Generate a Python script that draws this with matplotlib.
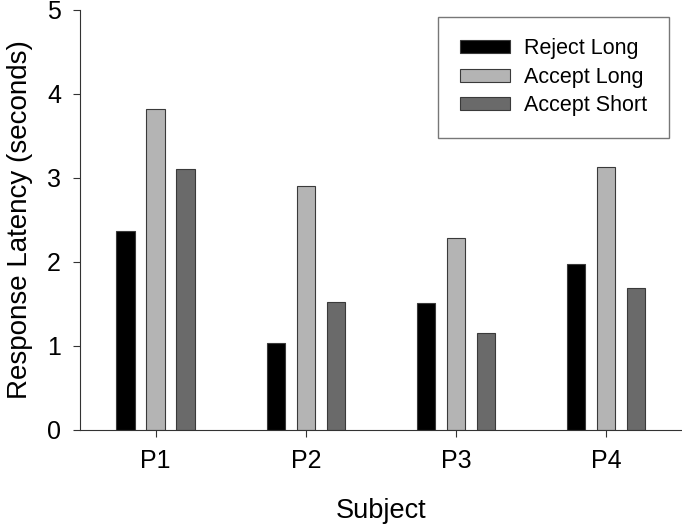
import matplotlib
matplotlib.use("Agg")
import matplotlib.pyplot as plt
import numpy as np

plt.rcParams['font.family'] = ['Liberation Sans', 'DejaVu Sans']

subjects = ["P1", "P2", "P3", "P4"]
series_names = ["Reject Long", "Accept Long", "Accept Short"]
reject_long = [2.37, 1.03, 1.51, 1.97]
accept_long = [3.82, 2.90, 2.28, 3.13]
accept_short = [3.11, 1.52, 1.16, 1.69]
colors = ["#000000", "#b4b4b4", "#6a6a6a"]

fig = plt.figure(figsize=(6.82, 5.25), dpi=100)
ax = fig.add_axes([0.118, 0.181, 0.881, 0.8])

x = np.arange(len(subjects))
w = 0.123
for i, (vals, name, c) in enumerate(zip([reject_long, accept_long, accept_short], series_names, colors)):
    ax.bar(x + (i - 1) * 0.2, vals, width=w, color=c, edgecolor="#3a3a3a",
           linewidth=0.8, label=name)

ax.set_xlim(-0.5, 3.5)
ax.set_ylim(0, 5)
ax.set_xticks(x)
ax.set_xticklabels(subjects)
ax.set_yticks(range(6))
ax.tick_params(axis='both', labelsize=18, direction='out', length=5, width=0.8, color="#333333")
ax.tick_params(axis='x', pad=9)
ax.tick_params(axis='y', pad=9)
ax.spines['top'].set_visible(False)
ax.spines['right'].set_visible(False)
ax.spines['left'].set_color("#333333")
ax.spines['bottom'].set_color("#333333")
ax.set_xlabel("Subject", fontsize=19.5, labelpad=18)
ax.set_ylabel("Response Latency (seconds)", fontsize=20, labelpad=10)

leg = ax.legend(loc='upper right', bbox_to_anchor=(0.981, 0.968), bbox_transform=fig.transFigure,
                fontsize=15.5, frameon=True, fancybox=False, handlelength=2.35, handleheight=0.55,
                handletextpad=0.65, labelspacing=0.35, borderpad=1.0, borderaxespad=0)
leg.get_frame().set_edgecolor("#555555")
leg.get_frame().set_linewidth(1.0)

fig.savefig("out.png", dpi=100)
